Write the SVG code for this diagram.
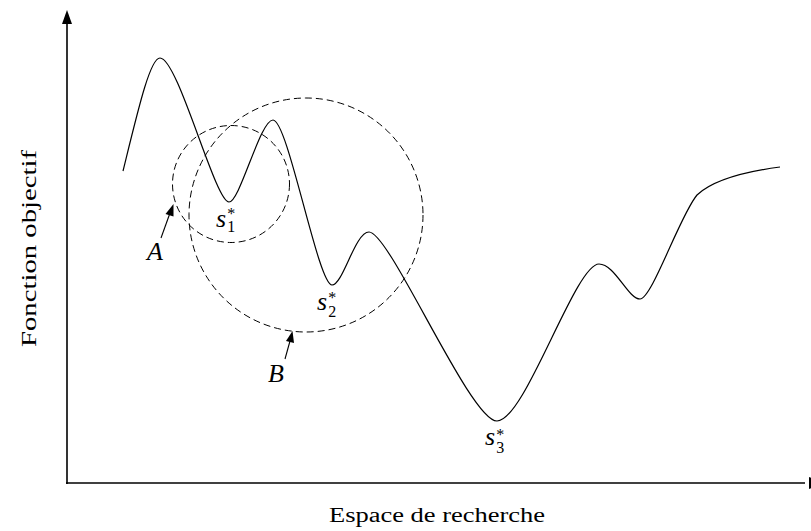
<svg xmlns="http://www.w3.org/2000/svg" width="811" height="531" viewBox="0 0 811 531">
<style>
.ax{stroke:#000;stroke-width:1.6;fill:none}
.cv{stroke:#000;stroke-width:1.2;fill:none}
.dc{stroke:#000;stroke-width:1;fill:none;stroke-dasharray:7 4}
.ar{stroke:#000;stroke-width:1.1;fill:none}
</style>
<rect width="811" height="531" fill="#fff"/>
<g id="axes">
<line class="ax" x1="67" y1="484" x2="67" y2="20"/>
<polygon points="67,10 62,24 72,24" fill="#000"/>
<line class="ax" x1="66" y1="483" x2="805" y2="483"/>
<polygon points="823,483 809,477 809,489" fill="#000"/>
</g>
<g id="curve">
<path class="cv" d="M123,171 C138,110 150,58 160,58 C178,58 215,202 229,202 C240,202 260,120 273,120 C288,120 318,285 332,285 C343,285 355,232 369,232 C390,232 470,421 497,421 C525,421 575,264 599,264 C615,264 628,299 640,299 C652,299 680,215 697,195 C715,178 750,171 780,167"/>
</g>
<g id="circleA"><circle class="dc" cx="231" cy="184" r="58.5"/></g>
<g id="circleB"><circle class="dc" cx="306" cy="215" r="117"/></g>
<g id="connectors">
<line class="ar" x1="161" y1="238" x2="170" y2="213"/>
<polygon points="173.5,204 165.5,214 173.5,216.5" fill="#000"/>
<line class="ar" x1="285" y1="359" x2="290" y2="341"/>
<polygon points="292.5,331 286,341 294,343" fill="#000"/>
</g>
<g id="labels" font-family="Liberation Serif" fill="#000">
<text x="147" y="260" font-size="26" font-style="italic">A</text>
<text x="268" y="382" font-size="26" font-style="italic">B</text>
<text x="216" y="227" font-size="26"><tspan font-style="italic">s</tspan><tspan font-size="16" dx="1" dy="5">1</tspan><tspan font-size="16" dx="-8" dy="-13">*</tspan></text>
<text x="317" y="310" font-size="26"><tspan font-style="italic">s</tspan><tspan font-size="16" dx="1" dy="7">2</tspan><tspan font-size="16" dx="-8" dy="-14">*</tspan></text>
<text x="485" y="445" font-size="26"><tspan font-style="italic">s</tspan><tspan font-size="16" dx="1" dy="8">3</tspan><tspan font-size="16" dx="-8" dy="-13">*</tspan></text>
<text x="329" y="522" font-size="20" textLength="216" lengthAdjust="spacingAndGlyphs">Espace de recherche</text>
<text transform="translate(36,347) rotate(-90)" font-size="20" textLength="197" lengthAdjust="spacingAndGlyphs">Fonction objectif</text>
</g>
</svg>
